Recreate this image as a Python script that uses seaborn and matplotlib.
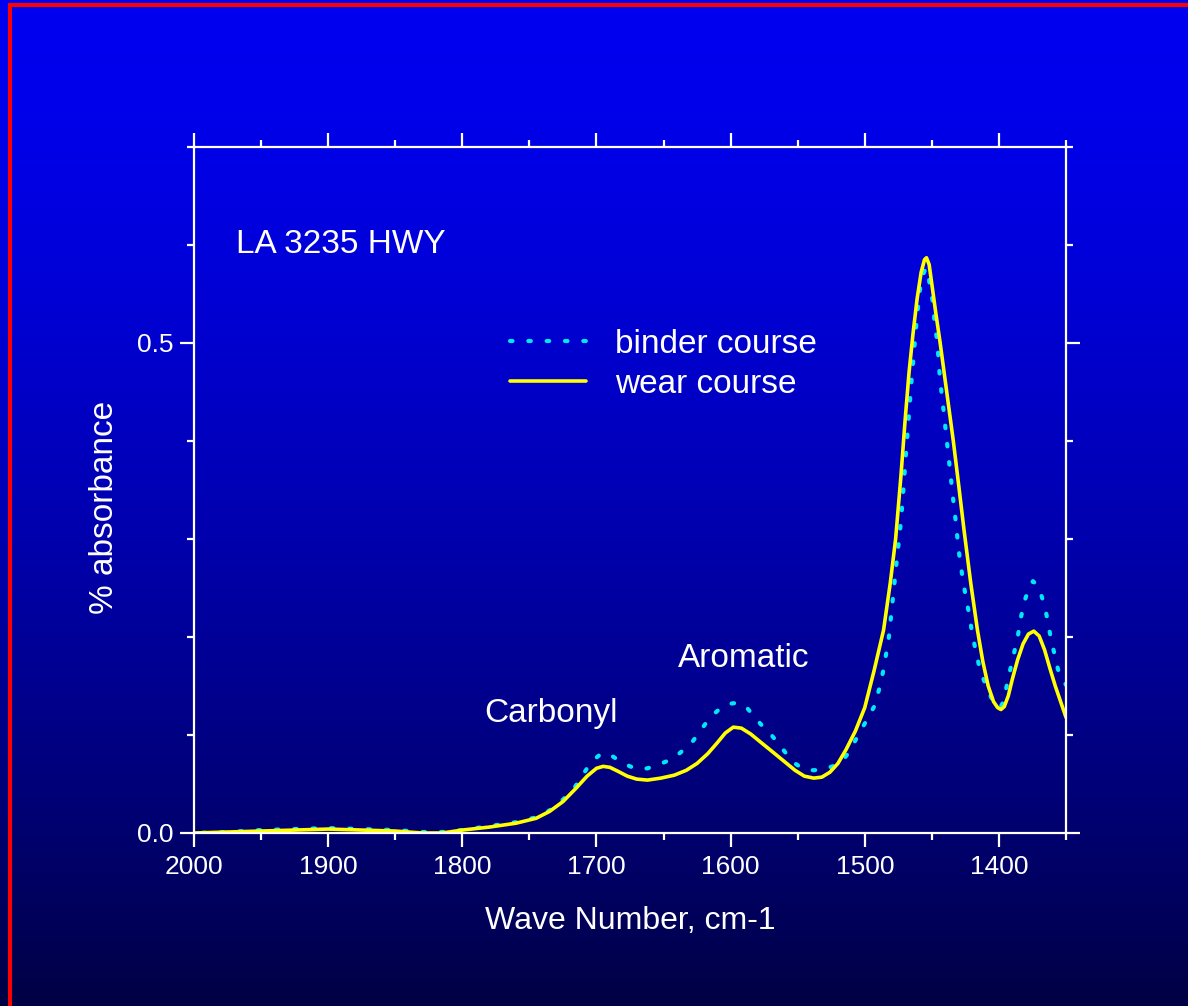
import numpy as np
import pandas as pd
import seaborn as sns
import matplotlib
matplotlib.use("Agg")
import matplotlib.pyplot as plt
from matplotlib.patches import Rectangle
from matplotlib.ticker import MultipleLocator, FormatStrFormatter

# FTIR absorbance spectra, LA 3235 highway cores
WAVE_WEAR = [2000, 1975, 1950, 1925, 1900, 1875, 1850, 1830, 1815, 1800,
             1780, 1760, 1745, 1735, 1725, 1715, 1707, 1700, 1695, 1690,
             1684, 1677, 1670, 1662, 1652, 1642, 1633, 1625, 1617, 1610,
             1604, 1598, 1592, 1585, 1577, 1568, 1560, 1552, 1545, 1538,
             1532, 1526, 1520, 1514, 1507, 1500, 1493, 1486, 1481, 1477,
             1473, 1470, 1467, 1464, 1461, 1458, 1455.5, 1454, 1452, 1450,
             1447, 1444, 1439, 1434, 1430, 1426, 1421, 1416, 1412, 1408,
             1404, 1401, 1398.5, 1396, 1393, 1390, 1386, 1382, 1378, 1374,
             1370, 1366, 1362, 1358, 1354, 1350]
ABS_WEAR = [0.000, 0.001, 0.002, 0.003, 0.004, 0.003, 0.002, 0.000, 0.000, 0.003,
            0.006, 0.010, 0.015, 0.022, 0.032, 0.046, 0.058, 0.066, 0.068, 0.067,
            0.063, 0.058, 0.055, 0.054, 0.056, 0.059, 0.064, 0.071, 0.081, 0.092,
            0.102, 0.108, 0.107, 0.101, 0.092, 0.082, 0.073, 0.064, 0.058, 0.056,
            0.057, 0.062, 0.071, 0.085, 0.104, 0.128, 0.166, 0.207, 0.255, 0.300,
            0.365, 0.420, 0.470, 0.510, 0.545, 0.572, 0.585, 0.587, 0.580, 0.560,
            0.530, 0.502, 0.451, 0.400, 0.355, 0.309, 0.255, 0.207, 0.175, 0.150,
            0.134, 0.128, 0.126, 0.129, 0.140, 0.157, 0.177, 0.193, 0.203, 0.206,
            0.201, 0.187, 0.168, 0.150, 0.134, 0.118]

WAVE_BINDER = [2000, 1975, 1950, 1925, 1900, 1875, 1850, 1830, 1815, 1800,
               1780, 1760, 1745, 1735, 1725, 1716, 1707.5, 1700, 1696, 1690,
               1682, 1675, 1669, 1662, 1655, 1648, 1641, 1634, 1628, 1619,
               1612, 1607, 1600, 1594, 1588, 1580.6, 1575, 1569, 1563, 1558,
               1552, 1545.5, 1538, 1531, 1524, 1517, 1512, 1508, 1500.7, 1493,
               1489, 1486, 1482, 1479, 1476, 1473, 1471, 1469, 1467, 1465,
               1463, 1461, 1459, 1457, 1455, 1453, 1451.5, 1449, 1448, 1446,
               1444, 1441, 1439.5, 1438, 1436.6, 1435, 1433.6, 1432, 1430.6, 1429,
               1427, 1424.6, 1422, 1420, 1417, 1414, 1409, 1405, 1402, 1399,
               1397, 1395, 1392, 1389, 1386, 1383.6, 1380.6, 1377, 1374.6, 1371,
               1368, 1364.6, 1362, 1359, 1356, 1352, 1349.3]
ABS_BINDER = [0.000, 0.001, 0.003, 0.004, 0.005, 0.004, 0.003, 0.001, 0.001, 0.003,
              0.007, 0.011, 0.016, 0.023, 0.034, 0.047, 0.065, 0.077, 0.0815, 0.080,
              0.073, 0.068, 0.065, 0.066, 0.069, 0.073, 0.078, 0.086, 0.094, 0.111,
              0.122, 0.128, 0.132, 0.133, 0.128, 0.116, 0.107, 0.099, 0.089, 0.080,
              0.071, 0.065, 0.064, 0.065, 0.068, 0.073, 0.082, 0.092, 0.110, 0.129,
              0.148, 0.167, 0.200, 0.240, 0.280, 0.318, 0.355, 0.392, 0.428, 0.464,
              0.496, 0.528, 0.553, 0.568, 0.575, 0.576, 0.558, 0.540, 0.520, 0.502,
              0.464, 0.428, 0.408, 0.390, 0.372, 0.352, 0.334, 0.316, 0.296, 0.278,
              0.260, 0.240, 0.222, 0.204, 0.184, 0.166, 0.148, 0.136, 0.129, 0.128,
              0.133, 0.145, 0.164, 0.182, 0.200, 0.220, 0.238, 0.252, 0.257, 0.252,
              0.241, 0.223, 0.204, 0.185, 0.167, 0.155, 0.150]

SERIES_LABELS = ["binder course", "wear course"]
X_TICKS = [2000, 1900, 1800, 1700, 1600, 1500, 1400]
Y_TICKS = [0.0, 0.5]

binder = pd.DataFrame({"wavenumber": WAVE_BINDER, "absorbance": ABS_BINDER})
wear = pd.DataFrame({"wavenumber": WAVE_WEAR, "absorbance": ABS_WEAR})

sns.set_theme(style="ticks")
plt.rcParams["font.family"] = ["Liberation Sans", "DejaVu Sans"]

W, H = 1188, 1006
fig = plt.figure(figsize=(W / 100, H / 100), dpi=100)

# vertical blue-to-navy backdrop
bg = fig.add_axes([0, 0, 1, 1])
bg.set_axis_off()
t = np.linspace(0, 1, 512)
grad = np.zeros((512, 1, 3))
grad[:, 0, 2] = (240 - 172 * t ** 1.5) / 255
bg.imshow(grad, extent=[0, 1, 0, 1], aspect="auto", origin="upper",
          interpolation="bilinear")
bg.set_xlim(0, 1)
bg.set_ylim(0, 1)
bg.add_patch(Rectangle((8 / W, 0), 4 / W, 1003 / H, color="red", lw=0))
bg.add_patch(Rectangle((8 / W, 999 / H), 1 - 8 / W, 4 / H, color="red", lw=0))

ax = fig.add_axes([194 / W, 173 / H, 872 / W, 686 / H])
ax.set_facecolor("none")

sns.lineplot(data=binder, x="wavenumber", y="absorbance", ax=ax,
             color="#00E8FF", lw=3.0, linestyle=(0, (0.6, 3.8)),
             dash_capstyle="round", label=SERIES_LABELS[0])
sns.lineplot(data=wear, x="wavenumber", y="absorbance", ax=ax,
             color="#FFFF00", lw=2.6, label=SERIES_LABELS[1])

ax.set_xlim(2000, 1350)
ax.set_ylim(0, 0.7)
ax.set_xticks(X_TICKS)
ax.set_yticks(Y_TICKS)
ax.xaxis.set_minor_locator(MultipleLocator(50))
ax.yaxis.set_minor_locator(MultipleLocator(0.1))
ax.yaxis.set_major_formatter(FormatStrFormatter("%.1f"))

for side in ["left", "right", "top", "bottom"]:
    ax.spines[side].set_color("white")
    ax.spines[side].set_linewidth(1.6)

ax.tick_params(which="both", direction="out", colors="white",
               top=True, right=True, labeltop=False, labelright=False,
               width=1.6, labelcolor="white")
ax.tick_params(which="major", length=10, labelsize=19)
ax.tick_params(axis="x", which="major", pad=6)
ax.tick_params(axis="y", which="major", pad=5)
ax.tick_params(which="minor", length=5)

ax.set_xlabel("Wave Number, cm-1", fontsize=23, color="white", labelpad=19)
ax.set_ylabel("% absorbance", fontsize=24, color="white")
ax.yaxis.set_label_coords(-0.085, 0.474)

ax.text(1969, 0.601, "LA 3235 HWY", fontsize=24, color="white",
        ha="left", va="center")
ax.text(1734, 0.122, "Carbonyl", fontsize=24, color="white",
        ha="center", va="center")
ax.text(1590, 0.178, "Aromatic", fontsize=24, color="white",
        ha="center", va="center")

ax.legend(frameon=False, loc="upper left", bbox_to_anchor=(0.362, 0.735),
          borderpad=0, borderaxespad=0, handlelength=2.3, handletextpad=0.85,
          labelspacing=0.28, fontsize=24, labelcolor="white")

fig.savefig("out.png", dpi=100)
